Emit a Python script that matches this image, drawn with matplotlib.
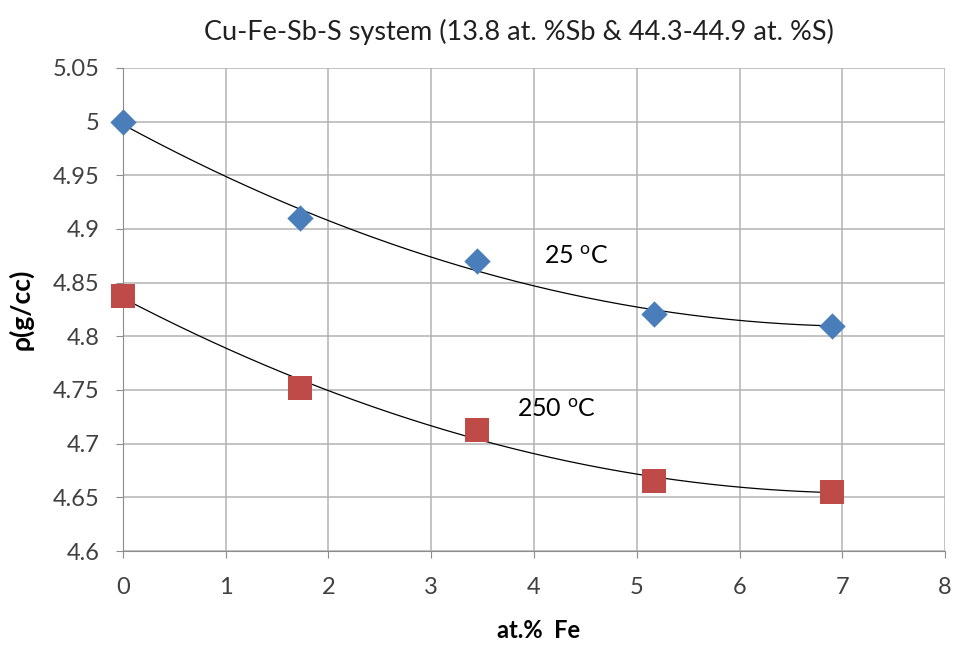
import numpy as np
import matplotlib
matplotlib.use('Agg')
import matplotlib.pyplot as plt

plt.rcParams['font.family'] = ['Lato', 'DejaVu Sans']
plt.rcParams['mathtext.fontset'] = 'custom'
plt.rcParams['mathtext.rm'] = 'Lato'

# data
fe = [0, 1.72, 3.45, 5.17, 6.9]
rho_25 = [5.0, 4.91, 4.87, 4.821, 4.81]
rho_250 = [4.838, 4.752, 4.713, 4.665, 4.655]

xticks = [0, 1, 2, 3, 4, 5, 6, 7, 8]
yticks = [4.6, 4.65, 4.7, 4.75, 4.8, 4.85, 4.9, 4.95, 5.0, 5.05]
ylabels = ['4.6', '4.65', '4.7', '4.75', '4.8', '4.85', '4.9', '4.95', '5', '5.05']

fig = plt.figure(figsize=(9.57, 6.45), dpi=100)
ax = fig.add_axes([0.1285, 0.1457, 0.859, 0.749])

# 2nd order trendlines
xs = np.linspace(0, 6.9, 200)
for ys in (rho_25, rho_250):
    p = np.polyfit(fe, ys, 2)
    ax.plot(xs, np.polyval(p, xs), color='black', lw=0.9, zorder=2)

ax.scatter(fe, rho_25, marker='D', s=180, color='#4a7ebb', zorder=3,
           linewidths=0, clip_on=False)
ax.scatter(fe, rho_250, marker='s', s=280, color='#be4b48', zorder=3,
           linewidths=0, clip_on=False)

ax.text(4.1, 4.874, '25 $^{\\rm o}$C', fontsize=18, va='center', ha='left')
ax.text(3.83, 4.732, '250 $^{\\rm o}$C', fontsize=18, va='center', ha='left')

ax.set_xlim(0, 8)
ax.set_ylim(4.6, 5.05)
ax.set_xticks(xticks)
ax.set_yticks(yticks)
ax.set_yticklabels(ylabels)
ax.grid(True, color='#b3b3b3', lw=1.1)
ax.set_axisbelow(True)
for s in ['top', 'right']:
    ax.spines[s].set_visible(False)
ax.spines['left'].set_color('#8c8c8c')
ax.spines['bottom'].set_color('#8c8c8c')
ax.tick_params(labelsize=17, colors='#404040', length=5, color='#8c8c8c')
ax.tick_params(axis='x', pad=14)
ax.tick_params(axis='y', pad=12)

fig.text(0.542, 0.950, 'Cu-Fe-Sb-S system (13.8 at. %Sb & 44.3-44.9 at. %S)',
         fontsize=19.5, ha='center', va='center', color='#202020')

ax.set_xlabel('at.%  Fe', fontsize=17, fontweight='bold')
ax.xaxis.set_label_coords(0.505, -0.164)
ax.xaxis.label.set_va('center')
ax.set_ylabel('ρ(g/cc)', fontsize=19, fontweight='bold')
ax.yaxis.set_label_coords(-0.124, 0.5)
ax.yaxis.label.set_va('center')

fig.savefig('out.png', dpi=100)
